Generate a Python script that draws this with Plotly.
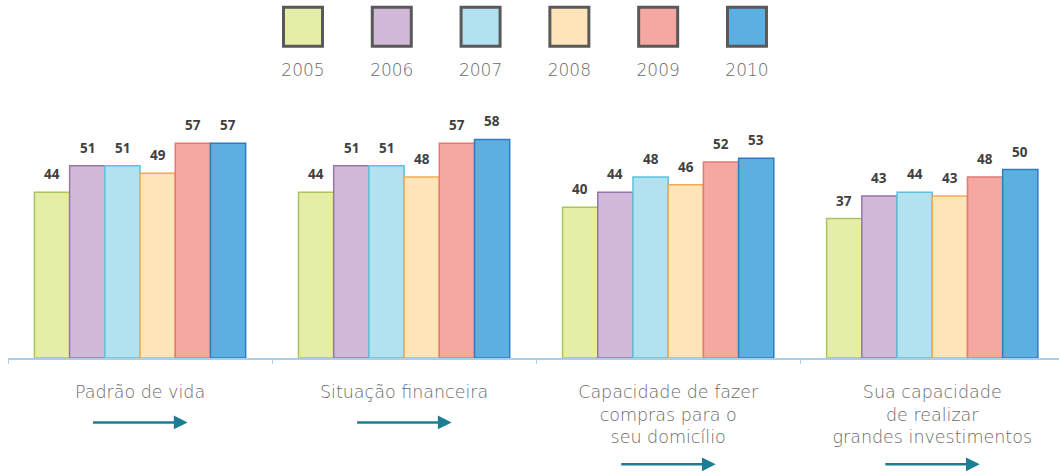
import plotly.graph_objects as go

# Survey dimensions (x categories) and yearly scores
categories = [
    "Padrão de vida",
    "Situação financeira",
    "Capacidade de fazer<br>compras para o<br>seu domicílio",
    "Sua capacidade<br>de realizar<br>grandes investimentos",
]
years = ["2005", "2006", "2007", "2008", "2009", "2010"]
values = {
    "2005": [44, 44, 40, 37],
    "2006": [51, 51, 44, 43],
    "2007": [51, 51, 48, 44],
    "2008": [49, 48, 46, 43],
    "2009": [57, 57, 52, 48],
    "2010": [57, 58, 53, 50],
}
fill_colors = ["#e5eda6", "#d1b9d9", "#b2e1f0", "#fde4b9", "#f5a8a2", "#5bafe1"]
edge_colors = ["#a9c55c", "#9577ab", "#5fc2da", "#f2aa52", "#e47a72", "#2f7cc2"]

BARGAP = 0.2
label_font = "DejaVu Sans"
label_color = "#6a6a6a"

fig = go.Figure()

n = len(years)
slot = (1 - BARGAP) / n
for j, (yr, fc, ec) in enumerate(zip(years, fill_colors, edge_colors)):
    fig.add_trace(go.Bar(
        x=categories, y=values[yr], name=yr,
        marker=dict(color=fc, line=dict(color=ec, width=1.5)),
        showlegend=False,
    ))
    # value labels sitting a little above each bar
    for i, v in enumerate(values[yr]):
        fig.add_annotation(
            x=i + (j - (n - 1) / 2) * slot, y=v, xref="x", yref="y",
            text=str(v), showarrow=False, yanchor="bottom", yshift=7,
            font=dict(family="Open Sans", size=13.5, color="#404040", weight="bold"),
        )

# Legend drawn as large swatches on its own axis pair
fig.add_trace(go.Scatter(
    x=list(range(n)), y=[0.7] * n, mode="markers",
    marker=dict(symbol="square", size=39, color=fill_colors,
                line=dict(color="#595959", width=3)),
    xaxis="x2", yaxis="y2", showlegend=False, hoverinfo="skip",
))
fig.add_trace(go.Scatter(
    x=list(range(n)), y=[0.2] * n, mode="text",
    text=years, textposition="middle center",
    textfont=dict(family=label_font, size=17, color=label_color, weight=300),
    xaxis="x2", yaxis="y2", showlegend=False, hoverinfo="skip",
))

# Teal arrows under each category label
arrow_rows = [-0.18, -0.18, -0.297, -0.297]
for i, yy in enumerate(arrow_rows):
    fig.add_annotation(
        x=i + 0.18, y=yy, xref="x", yref="paper",
        ax=-96, ay=0, axref="pixel", ayref="pixel",
        text="", showarrow=True, arrowhead=2, arrowsize=1.1,
        arrowwidth=2.5, arrowcolor="#1b7e92",
    )

fig.update_layout(
    width=1059, height=474,
    margin=dict(l=8, r=0, t=0, b=116),
    paper_bgcolor="white", plot_bgcolor="white",
    barmode="group", bargap=BARGAP, bargroupgap=0,
    xaxis=dict(
        range=[-0.5, 3.48], showgrid=False, showline=True,
        linecolor="#a9d0e6", linewidth=1.5,
        ticks="outside", tickson="boundaries", ticklen=4, tickcolor="#a9d0e6",
        tickfont=dict(family=label_font, size=17.5, color=label_color, weight=300),
        ticklabelstandoff=17,
    ),
    yaxis=dict(domain=[0, 0.74], range=[0, 70.3], visible=False),
    xaxis2=dict(domain=[0, 1], range=[-3.322, 8.514], visible=False, anchor="y2"),
    yaxis2=dict(domain=[0.75, 1], range=[0, 1], visible=False, anchor="x2"),
)

fig.write_html("out.html")
